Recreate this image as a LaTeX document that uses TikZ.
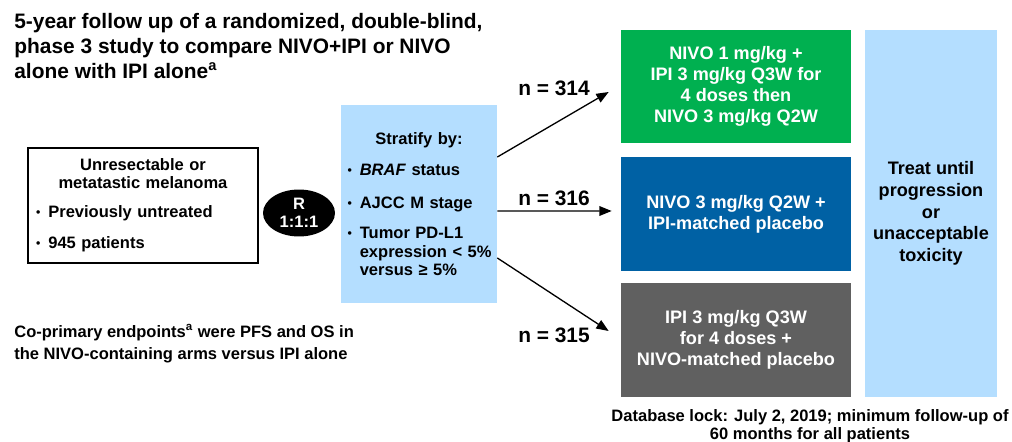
\documentclass[tikz,border=0pt]{standalone}
\usepackage{fontspec}
\setmainfont{Liberation Sans}
\usetikzlibrary{positioning, arrows.meta, shapes.geometric}
\definecolor{armgreen}{RGB}{0,176,80}
\definecolor{armblue}{RGB}{0,97,164}
\definecolor{armgray}{RGB}{96,96,96}
\definecolor{paleblue}{RGB}{180,222,255}
\newcommand{\dotmark}{\makebox[7pt][l]{\raisebox{0.6pt}{\fontsize{7}{7}\selectfont\textbullet}}}

\begin{document}
\begin{tikzpicture}[
    x=0.02cm, y=-0.02cm,
    % Node styles
    patbox/.style={rectangle, draw=black, line width=0.75pt, minimum width=4.6cm, minimum height=2.3cm, text width=4.28cm, inner xsep=0.16cm, font=\fontsize{9.4}{10.3}\selectfont\bfseries},
    randnode/.style={ellipse, fill=black, text=white, minimum width=1.44cm, minimum height=0.94cm, inner sep=0pt, align=center, font=\fontsize{9.4}{10.2}\selectfont\bfseries},
    stratbox/.style={rectangle, fill=paleblue, minimum width=3.12cm, minimum height=3.96cm, text width=2.86cm, inner xsep=0.13cm, font=\fontsize{9.4}{10.5}\selectfont\bfseries},
    arm/.style={rectangle, minimum width=4.6cm, minimum height=2.28cm, text=white, align=center, font=\fontsize{10.3}{11.9}\selectfont\bfseries},
    treatbox/.style={rectangle, fill=paleblue, minimum width=2.64cm, minimum height=7.34cm, align=center, font=\fontsize{10.3}{12.3}\selectfont\bfseries},
    nlabel/.style={inner sep=0pt, font=\fontsize{11.9}{14}\selectfont\bfseries},
    heading/.style={align=left, inner sep=0pt, font=\fontsize{11.9}{14.2}\selectfont\bfseries},
    note/.style={align=left, inner sep=0pt, font=\fontsize{9.4}{12.5}\selectfont\bfseries},
    % Edge styles
    alloc/.style={-{Triangle[length=7pt, width=5.5pt]}, line width=0.75pt}
]
\useasboundingbox (0,0) rectangle (1012,442);
% Title
\node[heading, anchor=north west] (title) at (14,13) {5-year follow up of a randomized, double-blind,\\ phase 3 study to compare NIVO+IPI or NIVO\\ alone with IPI alone\textsuperscript{a}};
% Patients and randomization
\node[patbox] (patients) at (143,205.5) {{\centering Unresectable or\\ metatastic melanoma\par}\vspace{6pt}
\dotmark Previously untreated\\[7.4pt]
\dotmark 945 patients};
\node[randnode] (rand) at (299,213) {R\\ 1:1:1};
\node[stratbox] (strat) at (419,204) {{\centering Stratify by:\par}\vspace{7.6pt}
\mbox{\dotmark\textit{BRAF} status}\\[8.2pt]
\mbox{\dotmark AJCC M stage}\\[6.6pt]
\mbox{\dotmark Tumor PD-L1}\\
\mbox{\hspace*{7pt}expression < 5\%}\\
\mbox{\hspace*{7pt}versus ≥ 5\%}};
% Treatment arms
\node[arm, fill=armgreen] (combo) at (736,86.5) {NIVO 1 mg/kg +\\ IPI 3 mg/kg Q3W for\\ 4 doses then\\ NIVO 3 mg/kg Q2W};
\node[arm, fill=armblue] (nivo) at (736,214) {NIVO 3 mg/kg Q2W +\\ IPI-matched placebo};
\node[arm, fill=armgray] (ipi) at (736,340) {IPI 3 mg/kg Q3W\\ for 4 doses +\\ NIVO-matched placebo};
\node[treatbox] (treat) at (931,213.5) {Treat until\\ progression\\ or\\ unacceptable\\ toxicity};
% Allocation arrows
\draw[alloc] ([yshift=0.94cm]strat.east) -- ([xshift=-0.24cm, yshift=-0.11cm]combo.west);
\draw[alloc] ([yshift=-0.14cm]strat.east) -- ([xshift=-0.18cm, yshift=0.06cm]nivo.west);
\draw[alloc] ([yshift=-1.08cm]strat.east) -- ([xshift=-0.24cm, yshift=0.18cm]ipi.west);
\node[nlabel] (n1) at (554,88) {n = 314};
\node[nlabel] (n2) at (554,198) {n = 316};
\node[nlabel] (n3) at (554,335) {n = 315};
% Notes
\node[note, anchor=north west] (endpoints) at (14,324) {Co-primary endpoints\textsuperscript{a} were PFS and OS in\\ the NIVO-containing arms versus IPI alone};
\node[note, anchor=north, align=center, font=\fontsize{9.4}{10.3}\selectfont\bfseries] (lock) at (810,409) {Database lock: July 2, 2019; minimum follow-up of\\ 60 months for all patients};
\end{tikzpicture}
\end{document}
